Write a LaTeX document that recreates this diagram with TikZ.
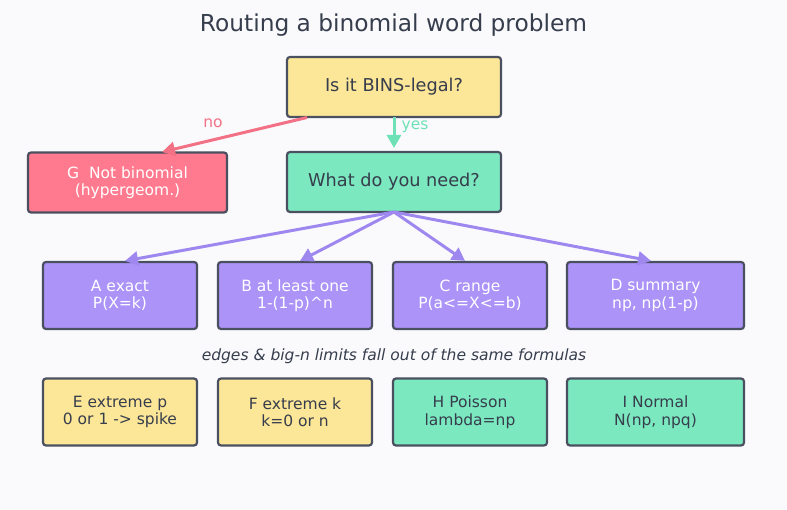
\documentclass[tikz,border=0pt]{standalone}
\usepackage{fontspec}
\setmainfont{DejaVu Sans}
\usetikzlibrary{arrows.meta}
\definecolor{bg}{HTML}{FAFAFD}
\definecolor{ink}{HTML}{363D4C}
\definecolor{edge}{HTML}{4A5060}
\definecolor{yel}{HTML}{FCE697}
\definecolor{red}{HTML}{FF7A8E}
\definecolor{grn}{HTML}{7BE8BF}
\definecolor{pur}{HTML}{AB93F7}
\definecolor{redl}{HTML}{F27185}
\definecolor{grnl}{HTML}{6EE2B6}
\definecolor{purl}{HTML}{9E88F0}
\tikzset{
  box/.style={draw=edge, line width=2.2pt, rounded corners=3pt, align=center, font=\fontsize{15.5}{17.5}\selectfont, inner sep=0pt},
  arr/.style={line width=3pt, -{Triangle[length=13pt,width=14pt]}},
}
\begin{document}
\begin{tikzpicture}[x=1pt,y=-1pt]
\fill[bg] (0,0) rectangle (787,510);
\useasboundingbox (0,0) rectangle (787,510);
\node[text=ink, font=\fontsize{23.3}{26}\selectfont] (title) at (393.5,25) {Routing a binomial word problem};
\node[box, fill=yel, text=ink, minimum width=214pt, minimum height=60pt, font=\fontsize{17.7}{20}\selectfont] (q) at (394,87) {Is it BINS-legal?};
\node[box, fill=red, text=white, minimum width=199pt, minimum height=60pt] (g) at (127.5,182.5) {G\ \ Not binomial\\(hypergeom.)};
\node[box, fill=grn, text=ink, minimum width=214pt, minimum height=60pt, font=\fontsize{17.7}{20}\selectfont] (w) at (394,182) {What do you need?};
\node[box, fill=pur, text=white, minimum width=154pt, minimum height=67pt] (a) at (120,295.5) {A exact\\P(X=k)};
\node[box, fill=pur, text=white, minimum width=154pt, minimum height=67pt] (b) at (295,295.5) {B at least one\\1-(1-p)\textasciicircum n};
\node[box, fill=pur, text=white, minimum width=154pt, minimum height=67pt] (c) at (470,295.5) {C range\\P(a<=X<=b)};
\node[box, fill=pur, text=white, minimum width=177pt, minimum height=67pt] (d) at (655.5,295.5) {D summary\\np, np(1-p)};
\node[text=ink, font=\fontsize{15.5}{17}\selectfont\itshape] (cap) at (394,356) {edges \& big-n limits fall out of the same formulas};
\node[box, fill=yel, text=ink, minimum width=154pt, minimum height=67pt] (e) at (120,412) {E extreme p\\0 or 1 -> spike};
\node[box, fill=yel, text=ink, minimum width=154pt, minimum height=67pt] (f) at (295,412) {F extreme k\\k=0 or n};
\node[box, fill=grn, text=ink, minimum width=154pt, minimum height=67pt] (h) at (470,412) {H Poisson\\lambda=np};
\node[box, fill=grn, text=ink, minimum width=177pt, minimum height=67pt] (i) at (655.5,412) {I Normal\\N(np, npq)};
\coordinate (qno) at (307,117.5);
\coordinate (gin) at (162,152);
\draw[arr, redl] (qno) -- (gin);
\node[text=redl, font=\fontsize{15.5}{17}\selectfont] (nolab) at (213,123.5) {no};
\coordinate (qyes) at (394,117.5);
\coordinate (wyes) at (394,148);
\draw[arr, grnl] (qyes) -- (wyes);
\node[text=grnl, font=\fontsize{15.5}{17}\selectfont] (yeslab) at (415,126.5) {yes};
\coordinate (wo) at (394,212);
\draw[arr, purl] (wo) -- (a.north -| 125,0);
\draw[arr, purl] (wo) -- (b.north -| 300,0);
\draw[arr, purl] (wo) -- (c.north -| 465,0);
\draw[arr, purl] (wo) -- (d.north -| 651,0);
\end{tikzpicture}
\end{document}
